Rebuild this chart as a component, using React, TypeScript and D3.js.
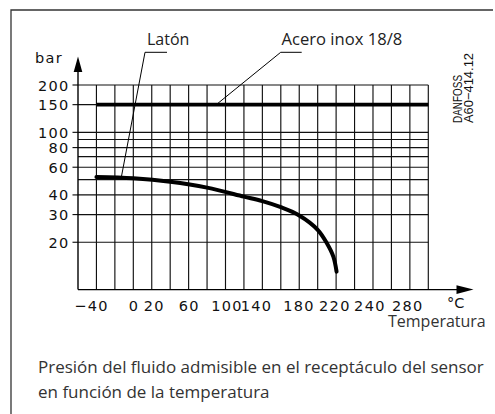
import React from "react";
import * as d3 from "d3";

// ---- data ----
const brassTemps = [-40, 0, 40, 80, 120, 140, 160, 180, 200, 210, 217, 220.5];
const brassBar = [52, 51, 48.5, 44.5, 39, 36.5, 33.4, 29.6, 24, 19.7, 16.2, 13];
const steelTemps = [-40, 320];
const steelBar = [150, 150];
const yGridValues = [200, 150, 100, 90, 80, 70, 60, 50, 40, 30, 20];
const yTickValues = [200, 150, 100, 80, 60, 40, 30, 20];
const yTickLabels = ["200", "150", "100", "80", "60", "40", "30", "20"];
const xGridValues = d3.range(-40, 321, 20);
const xTickLabels = ["−40", "0", "20", "60", "100", "140", "180", "220", "240", "280"];
const xTickLabelAt = [-46, 0, 22, 60, 101, 133, 179, 218, 256, 297];
const seriesLabels = ["Latón", "Acero inox 18/8"];
const caption = [
  "Presión del fluido admisible en el receptáculo del sensor",
  "en función de la temperatura",
];

export default function App() {
  const x = d3.scaleLinear().domain([-60, 320]).range([78, 428.3]);
  const y = d3.scaleLog().domain([10, 200]).range([289.6, 85]);
  const line = d3
    .line<number>()
    .x((_, i) => x(brassTemps[i]))
    .y((d) => y(d))
    .curve(d3.curveCatmullRom.alpha(0.5));
  const steelLine = d3
    .line<number>()
    .x((_, i) => x(steelTemps[i]))
    .y((d) => y(d));

  const numFont = {
    fontFamily: "DejaVu Sans",
    fontSize: 14.5,
    letterSpacing: 1.3,
    fill: "#111",
  } as const;
  const labelFont = {
    fontFamily: "Open Sans",
    fontSize: 16,
    fill: "#222",
  } as const;

  const x0 = x(-60);
  const x1 = x(320);
  const yTop = y(200);
  const yBot = y(10);

  const brassLeadT = -13;
  const brassLeadY = y(51.8);
  const steelLeadT = 90;

  return (
    <svg
      width={495}
      height={414}
      style={{ position: "absolute", left: 0, top: 0, background: "#fff" }}
    >
      {/* frame */}
      <path d="M11,414 L11,10 L493,10" fill="none" stroke="#333" strokeWidth={1.3} />

      {/* horizontal grid */}
      {yGridValues.map((v) => (
        <line key={"h" + v} x1={x0} x2={x1} y1={y(v)} y2={y(v)} stroke="#111" strokeWidth={1.15} />
      ))}
      {/* vertical grid */}
      {xGridValues.map((t) => (
        <line key={"v" + t} x1={x(t)} x2={x(t)} y1={yTop} y2={yBot} stroke="#111" strokeWidth={1.15} />
      ))}
      {/* y ticks */}
      {yTickValues.map((v) => (
        <line key={"yt" + v} x1={x0 - 5.5} x2={x0} y1={y(v)} y2={y(v)} stroke="#111" strokeWidth={1.15} />
      ))}

      {/* axes */}
      <line x1={x0} x2={x0} y1={yBot} y2={70} stroke="#000" strokeWidth={1.4} />
      <path d={`M${x0 - 4.3},72 L${x0},56.5 L${x0 + 4.3},72 Z`} fill="#000" />
      <line x1={x0} x2={458} y1={yBot} y2={yBot} stroke="#000" strokeWidth={1.4} />
      <path d={`M456.5,${yBot - 4.3} L473.5,${yBot} L456.5,${yBot + 4.3} Z`} fill="#000" />

      {/* y labels */}
      {yTickValues.map((v, i) => (
        <text key={"yl" + v} x={69.5} y={y(v) + 5.5} textAnchor="end" style={numFont}>
          {yTickLabels[i]}
        </text>
      ))}
      <text x={35} y={63} style={numFont}>
        bar
      </text>

      {/* x labels */}
      {xTickLabels.map((s, i) => (
        <text key={"xl" + i} x={x(xTickLabelAt[i]) + 0.6} y={311} textAnchor="middle" style={numFont}>
          {s}
        </text>
      ))}
      <text x={447} y={308} style={{ ...numFont, letterSpacing: 0 }}>
        °C
      </text>
      <text x={388} y={327} style={{ ...labelFont, fill: "#333" }}>
        Temperatura
      </text>

      {/* series */}
      <path d={steelLine(steelBar) || ""} fill="none" stroke="#000" strokeWidth={3.6} />
      <path
        d={line(brassBar) || ""}
        fill="none"
        stroke="#000"
        strokeWidth={4}
        strokeLinecap="round"
        strokeLinejoin="round"
      />

      {/* leaders */}
      <path
        d={`M167,52.3 L145,52.3 L${x(brassLeadT)},${brassLeadY}`}
        fill="none"
        stroke="#000"
        strokeWidth={1}
      />
      <path
        d={`M301.7,52.3 L280.7,52.3 L${x(steelLeadT)},${y(150)}`}
        fill="none"
        stroke="#000"
        strokeWidth={1}
      />
      <text x={147} y={45} style={labelFont}>
        {seriesLabels[0]}
      </text>
      <text x={281.5} y={45} style={{ ...labelFont, fontSize: 16.6 }}>
        {seriesLabels[1]}
      </text>

      {/* drawing id */}
      <g transform="translate(461.7,123) rotate(-90)">
        <text x={0} y={0} style={{ fontFamily: "Liberation Sans Narrow, Liberation Sans", fontSize: 13, fill: "#111" }} textLength={48} lengthAdjust="spacingAndGlyphs">
          DANFOSS
        </text>
      </g>
      <g transform="translate(473.3,123) rotate(-90)">
        <text x={0} y={0} style={{ fontFamily: "Liberation Sans Narrow, Liberation Sans", fontSize: 13, fill: "#111" }} textLength={70} lengthAdjust="spacingAndGlyphs">
          A60−414.12
        </text>
      </g>

      {/* caption */}
      {caption.map((c, i) => (
        <text key={"c" + i} x={38} y={373 + i * 24.5} style={{ ...labelFont, fontSize: 17, fill: "#333" }}>
          {c}
        </text>
      ))}
    </svg>
  );
}
